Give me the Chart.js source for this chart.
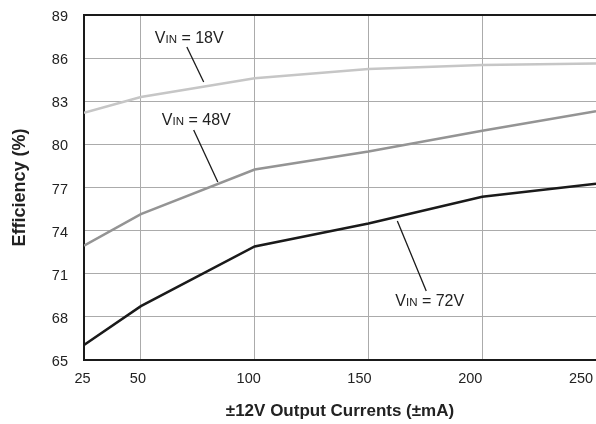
<!DOCTYPE html>
<html>
<head>
<meta charset="utf-8">
<script src="https://cdn.jsdelivr.net/npm/chart.js@4/dist/chart.umd.min.js"></script>
<style>
    body { margin: 0; background: #ffffff; }
    #wrap { width: 596px; height: 424px; }
</style>
</head>
<body>
<div id="wrap"><canvas id="graphCanvas" width="596" height="424"></canvas></div>
<script>
// data
var currents = [25, 50, 100, 150, 200, 250];
var eff18V = [82.2, 83.3, 84.6, 85.25, 85.52, 85.62];
var eff48V = [72.95, 75.15, 78.25, 79.5, 80.95, 82.3];
var eff72V = [66.05, 68.75, 72.9, 74.5, 76.35, 77.27];

var xTicks = [25, 50, 100, 150, 200, 250];
var yMin = 65, yMax = 89, yStep = 3;

// callouts: value in the label, text anchor and leader line in data units
var calloutVolts = ['18V', '48V', '72V'];
var calloutText = [[56.1, 87.05], [59.2, 81.35], [161.8, 68.76]];
var calloutLine = [[70.2, 86.77, 77.6, 84.34], [73.2, 81.0, 83.8, 77.38], [162.7, 74.67, 175.4, 69.8]];

var sans = "'Liberation Sans', Arial, sans-serif";

function points(ys) {
    var out = [];
    for (var i in currents) {
        out.push({ x: currents[i], y: ys[i] });
    }
    return out;
}

var framePlugin = {
    id: 'frame',
    afterDraw: function (chart) {
        var ctx = chart.ctx, a = chart.chartArea;
        ctx.save();
        ctx.strokeStyle = '#1a1a1a';
        ctx.lineWidth = 2;
        ctx.beginPath();
        ctx.moveTo(a.left - 1, a.top);
        ctx.lineTo(a.right, a.top);
        ctx.stroke();
        ctx.restore();
    }
};

// x tick labels sit a little left of their grid lines in the original
var xLabelPlugin = {
    id: 'xLabels',
    afterDraw: function (chart) {
        var ctx = chart.ctx, sx = chart.scales.x;
        ctx.save();
        ctx.font = '14.5px ' + sans;
        ctx.fillStyle = '#222222';
        ctx.textAlign = 'center';
        ctx.textBaseline = 'middle';
        xTicks.forEach(function (v) {
            var px = sx.getPixelForValue(v) - 1.5 - (v - 25) * 0.06;
            ctx.fillText(String(v), px, chart.chartArea.bottom + 19);
        });
        ctx.restore();
    }
};

var calloutPlugin = {
    id: 'callouts',
    afterDatasetsDraw: function (chart) {
        var ctx = chart.ctx, sx = chart.scales.x, sy = chart.scales.y;
        ctx.save();
        ctx.fillStyle = '#222222';
        ctx.strokeStyle = '#1a1a1a';
        ctx.lineWidth = 1.3;
        ctx.textBaseline = 'alphabetic';
        ctx.textAlign = 'left';
        for (var i = 0; i < calloutVolts.length; i++) {
            var l = calloutLine[i];
            ctx.beginPath();
            ctx.moveTo(sx.getPixelForValue(l[0]), sy.getPixelForValue(l[1]));
            ctx.lineTo(sx.getPixelForValue(l[2]), sy.getPixelForValue(l[3]));
            ctx.stroke();

            var tx = sx.getPixelForValue(calloutText[i][0]);
            var ty = sy.getPixelForValue(calloutText[i][1]);
            ctx.font = '16px ' + sans;
            ctx.fillText('V', tx, ty);
            tx += ctx.measureText('V').width;
            ctx.font = '11.5px ' + sans;
            ctx.fillText('IN', tx, ty);
            tx += ctx.measureText('IN').width;
            ctx.font = '16px ' + sans;
            ctx.fillText(' = ' + calloutVolts[i], tx, ty);
        }
        ctx.restore();
    }
};

var chartdata = {
    datasets: [{
        label: 'VIN = 18V',
        borderColor: '#c6c6c6',
        data: points(eff18V)
    }, {
        label: 'VIN = 48V',
        borderColor: '#949494',
        data: points(eff48V)
    }, {
        label: 'VIN = 72V',
        borderColor: '#1a1a1a',
        data: points(eff72V)
    }]
};

var graph = new Chart(document.getElementById('graphCanvas'), {
    type: 'line',
    data: chartdata,
    plugins: [framePlugin, xLabelPlugin, calloutPlugin],
    options: {
        responsive: false,
        animation: false,
        layout: { padding: { top: 15, right: 0, bottom: 0, left: 0 } },
        elements: {
            line: { borderWidth: 2.5, tension: 0 },
            point: { radius: 0, hoverRadius: 0 }
        },
        plugins: {
            legend: { display: false },
            tooltip: { enabled: false }
        },
        scales: {
            x: {
                type: 'linear',
                min: 25,
                max: 250,
                afterBuildTicks: function (scale) {
                    scale.ticks = xTicks.map(function (v) { return { value: v }; });
                },
                afterFit: function (scale) {
                    scale.height = 64;
                    scale.paddingLeft = 0;
                    scale.paddingRight = 0;
                },
                ticks: { display: false },
                grid: { color: '#ababab', lineWidth: 1, drawTicks: false },
                border: { color: '#1a1a1a', width: 2 },
                title: {
                    display: true,
                    text: '±12V Output Currents (±mA)',
                    color: '#222222',
                    font: { family: sans, size: 17, weight: 'bold' },
                    padding: { top: 0, bottom: 2 }
                }
            },
            y: {
                min: yMin,
                max: yMax,
                afterFit: function (scale) {
                    scale.width = 84;
                    scale.paddingTop = 0;
                    scale.paddingBottom = 0;
                },
                ticks: {
                    stepSize: yStep,
                    padding: 16,
                    labelOffset: 2,
                    color: '#222222',
                    font: { family: sans, size: 14.5 }
                },
                grid: { color: '#ababab', lineWidth: 1, drawTicks: false },
                border: { color: '#1a1a1a', width: 2 },
                title: {
                    display: true,
                    text: 'Efficiency (%)',
                    color: '#222222',
                    font: { family: sans, size: 18, weight: 'bold' },
                    padding: { top: 9, bottom: 0 }
                }
            }
        }
    }
});
</script>
</body>
</html>
